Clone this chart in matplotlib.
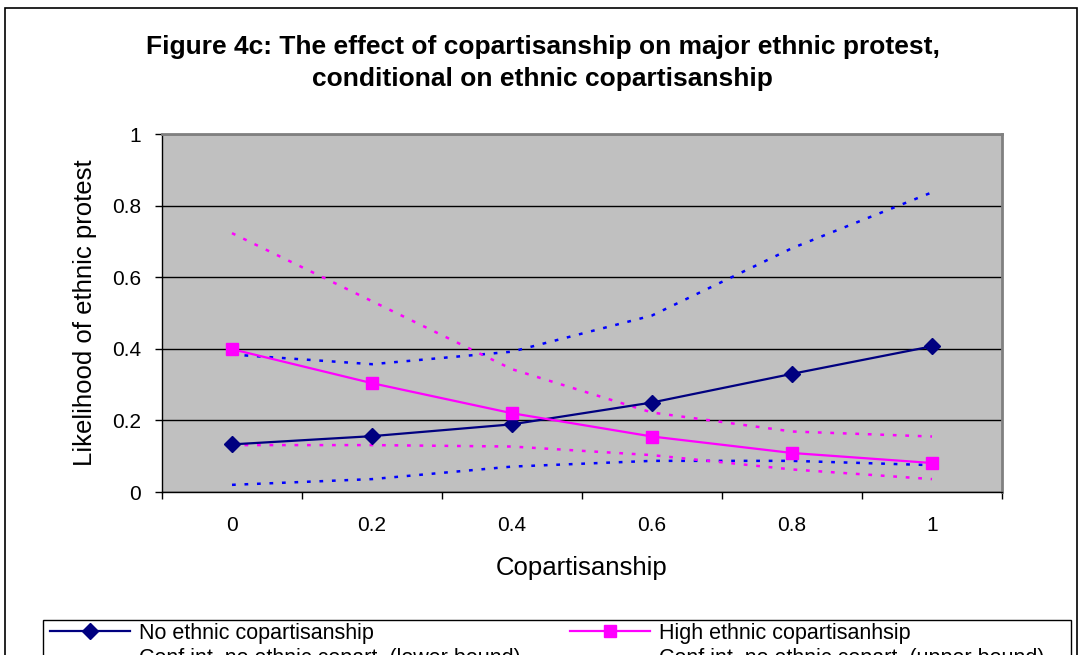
import matplotlib
matplotlib.use("Agg")
import matplotlib.pyplot as plt
from matplotlib.patches import Rectangle

plt.rcParams['font.family'] = ['Liberation Sans', 'DejaVu Sans']

# ---- data ----
categories = ["0", "0.2", "0.4", "0.6", "0.8", "1"]
no_ethnic = [0.133, 0.156, 0.189, 0.250, 0.330, 0.407]
high_ethnic = [0.399, 0.304, 0.220, 0.155, 0.109, 0.081]
no_lower = [0.020, 0.036, 0.071, 0.087, 0.087, 0.075]
no_upper = [0.384, 0.357, 0.392, 0.493, 0.681, 0.837]
high_lower = [0.131, 0.131, 0.127, 0.103, 0.063, 0.036]
high_upper = [0.723, 0.533, 0.343, 0.222, 0.169, 0.155]
y_ticks = [0, 0.2, 0.4, 0.6, 0.8, 1]
y_ticklabels = ["0", "0.2", "0.4", "0.6", "0.8", "1"]

labels = ["No ethnic copartisanship", "High ethnic copartisanhsip",
          "Conf int, no ethnic copart. (lower bound)", "Conf int, no ethnic copart. (upper bound)",
          "Conf int, high ethnic copart. (lower bound)", "Conf int, high ethnic copart. (upper bound)"]

W, H = 1085, 655
fig = plt.figure(figsize=(W / 100, H / 100), dpi=100)

# outer chart border
fig.patches.append(Rectangle((5 / W, -0.05), 1072 / W, 1.05 - 8 / H, transform=fig.transFigure,
                             fill=False, edgecolor='black', linewidth=1.2))

ax = fig.add_axes([162 / W, 1 - 492 / H, 840 / W, 358 / H])
ax.set_facecolor('#C0C0C0')

x = list(range(len(categories)))
dash = (0, (1.5, 3.5))
l1, = ax.plot(x, no_ethnic, color='#000080', lw=1.6, marker='D', markersize=8.5, label=labels[0], zorder=5)
l2, = ax.plot(x, high_ethnic, color='#FF00FF', lw=1.6, marker='s', markersize=8.5, label=labels[1], zorder=5)
l3, = ax.plot(x, no_lower, color='#0000FF', lw=1.8, linestyle=dash, label=labels[2], zorder=4)
l4, = ax.plot(x, no_upper, color='#0000FF', lw=1.8, linestyle=dash, label=labels[3], zorder=4)
l5, = ax.plot(x, high_lower, color='#FF00FF', lw=1.8, linestyle=dash, label=labels[4], zorder=4)
l6, = ax.plot(x, high_upper, color='#FF00FF', lw=1.8, linestyle=dash, label=labels[5], zorder=4)

ax.set_xlim(-0.5, len(categories) - 0.5)
ax.set_ylim(0, 1)
ax.set_yticks(y_ticks)
ax.set_yticklabels(y_ticklabels)
ax.yaxis.grid(True, color='black', lw=1.0)
ax.set_axisbelow(True)

ax.set_xticks([i - 0.5 for i in range(len(categories) + 1)])
ax.set_xticklabels([])
ax.set_xticks(x, minor=True)
ax.set_xticklabels(categories, minor=True)
ax.tick_params(axis='x', which='major', direction='out', length=5, width=1)
ax.tick_params(axis='x', which='minor', length=0, pad=17, labelsize=15)
ax.tick_params(axis='y', direction='out', length=5, width=1, pad=10, labelsize=15)

for s in ['top', 'right']:
    ax.spines[s].set_color('#808080')
    ax.spines[s].set_linewidth(2)
for s in ['left', 'bottom']:
    ax.spines[s].set_color('black')
    ax.spines[s].set_linewidth(1)

fig.text(0.5, 1 - 47 / H, "Figure 4c: The effect of copartisanship on major ethnic protest,",
         ha='center', va='center', fontsize=19, fontweight='bold')
fig.text(0.5, 1 - 79 / H, "conditional on ethnic copartisanship",
         ha='center', va='center', fontsize=19, fontweight='bold')
fig.text(85 / W, 1 - 313 / H, "Likelihood of ethnic protest", rotation=90,
         ha='center', va='center', fontsize=18.5)
fig.text(582 / W, 1 - 568 / H, "Copartisanship", ha='center', va='center', fontsize=18.5)

# legend frame
fig.patches.append(Rectangle((43 / W, -0.1), 1028 / W, 0.1 + 1 - 620 / H, transform=fig.transFigure,
                             fill=False, edgecolor='black', linewidth=1.0))

common = dict(loc='upper left', frameon=False, fontsize=15.5, borderpad=0, borderaxespad=0,
              handlelength=3.7, handletextpad=0.42, labelspacing=0.2)
leg1 = fig.legend([l1, l3, l5], [labels[0], labels[2], labels[4]],
                  bbox_to_anchor=(50 / W, 1 - 623 / H), **common)
leg2 = fig.legend([l2, l4, l6], [labels[1], labels[3], labels[5]],
                  bbox_to_anchor=(570 / W, 1 - 623 / H), **common)

fig.savefig("out.png", dpi=100)
